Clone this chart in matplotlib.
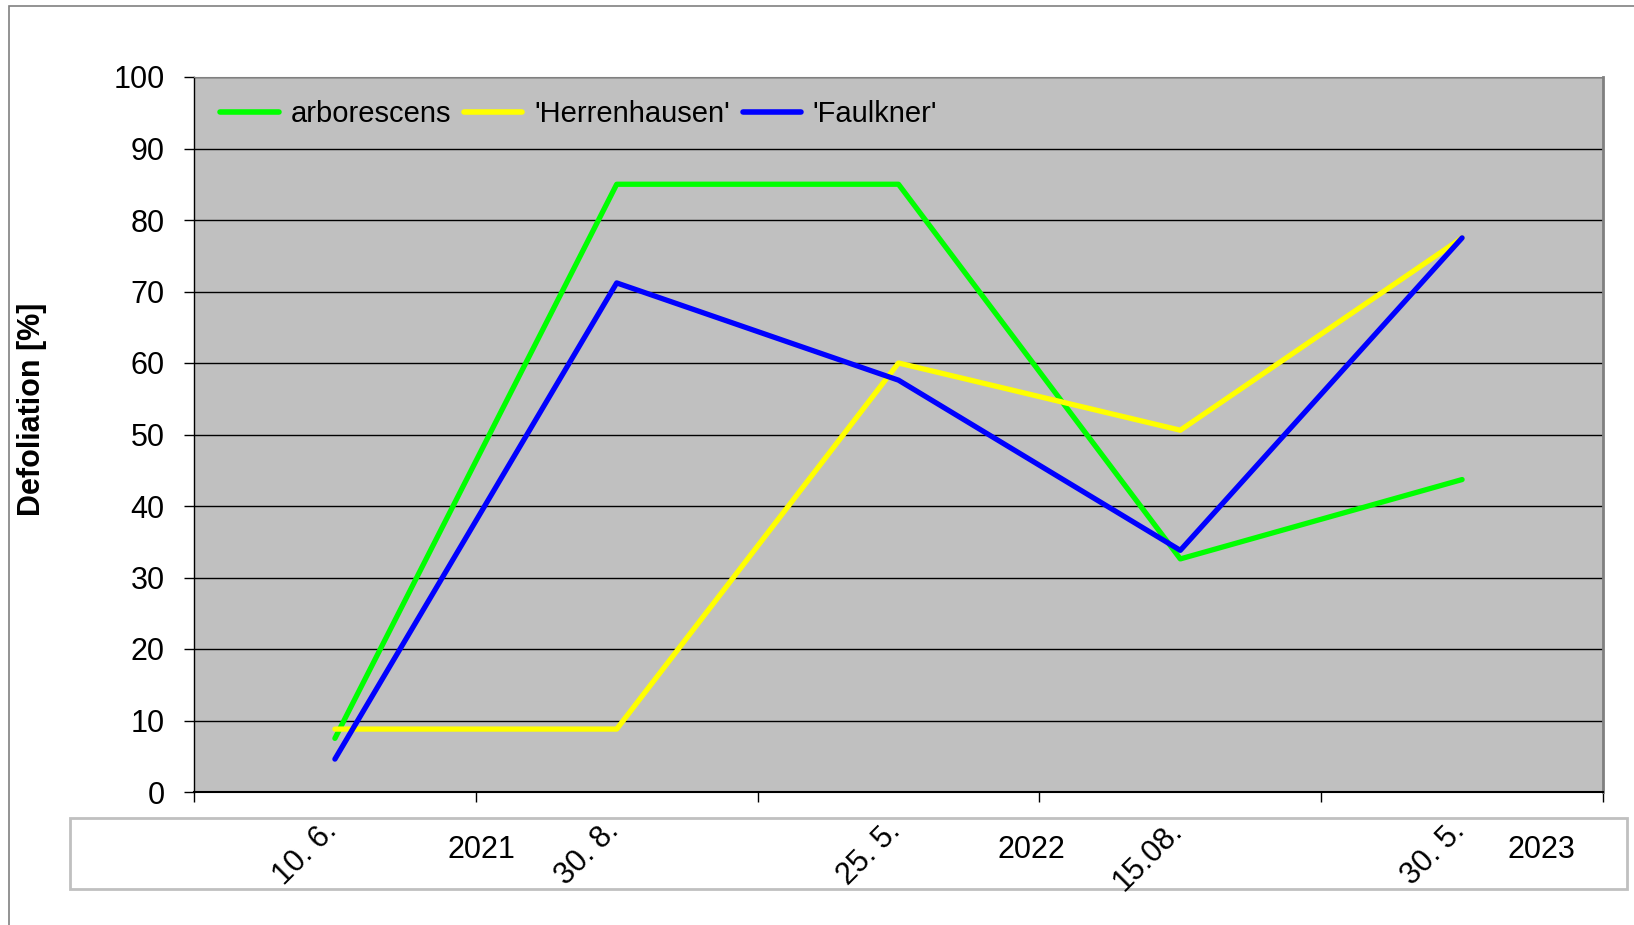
import matplotlib
matplotlib.use('Agg')
import matplotlib.pyplot as plt
from matplotlib.patches import Rectangle
from matplotlib.transforms import blended_transform_factory

plt.rcParams['font.family'] = ['Liberation Sans', 'DejaVu Sans']

# data
dates = ['10. 6.', '30. 8.', '25. 5.', '15.08.', '30. 5.']
years = ['2021', '2022', '2023']
year_pos = [0.52, 2.47, 4.28]
arborescens = [7.5, 85.0, 85.0, 32.6, 43.7]
herrenhausen = [8.8, 8.8, 60.0, 50.6, 77.5]
faulkner = [4.6, 71.2, 57.6, 33.8, 77.5]

W, H = 1634, 925
fig = plt.figure(figsize=(W / 100, H / 100), dpi=100)
ax = fig.add_axes([194 / W, 1 - 792 / H, (1603 - 194) / W, (792 - 77) / H])
ax.set_facecolor('#c0c0c0')

# outer chart frame
fig.patches.append(Rectangle((9 / W, -0.1), 1.2, 1.1 - 6 / H, transform=fig.transFigure,
                             fill=False, edgecolor='#808080', lw=1.2, zorder=0))
# box holding the category labels
fig.patches.append(Rectangle((70 / W, 1 - 889 / H), (1627 - 70) / W, (889 - 818) / H,
                             transform=fig.transFigure, facecolor='white',
                             edgecolor='#c0c0c0', lw=2, zorder=1))

x = range(len(dates))
ax.plot(x, arborescens, color='#00ff00', lw=3.8, label='arborescens', solid_capstyle='round')
ax.plot(x, herrenhausen, color='#ffff00', lw=3.8, label="'Herrenhausen'", solid_capstyle='round')
ax.plot(x, faulkner, color='#0000ff', lw=3.8, label="'Faulkner'", solid_capstyle='round')

ax.set_xlim(-0.5, len(dates) - 0.5)
ax.set_ylim(0, 100)
ax.set_yticks(range(0, 101, 10))
ax.set_xticks([i - 0.5 for i in range(len(dates) + 1)])
ax.set_xticklabels([])
ax.tick_params(axis='y', labelsize=22, length=7, width=1, pad=14, direction='out')
ax.tick_params(axis='x', length=7, width=1, direction='out')
ax.yaxis.grid(True, color='black', lw=1)
ax.set_axisbelow(True)

for s in ['left', 'bottom']:
    ax.spines[s].set_color('black')
ax.spines['left'].set_linewidth(1)
ax.spines['bottom'].set_linewidth(1.5)
ax.spines['top'].set_color('#808080')
ax.spines['right'].set_color('#808080')
ax.spines['right'].set_linewidth(2)

ax.set_ylabel('Defoliation [%]', fontsize=22, fontweight='bold')
ax.yaxis.set_label_coords(-0.104, 0.535)

leg = ax.legend(loc='upper left', ncol=3, frameon=False, fontsize=21,
                bbox_to_anchor=(0.0, 1.004), handlelength=2.0,
                handletextpad=0.4, columnspacing=0.45)
for h in leg.get_lines():
    h.set_linewidth(4)

tr = blended_transform_factory(ax.transData, fig.transFigure)
for i, d in enumerate(dates):
    fig.text(i + 0.03, 1 - 816 / H, d, rotation=45, ha='right', va='top',
             fontsize=22, transform=tr, zorder=5)
for xp, yr in zip(year_pos, years):
    fig.text(xp, 1 - 850 / H, yr, ha='center', va='center', fontsize=22,
             transform=tr, zorder=5)

fig.savefig('out.png', dpi=100)
